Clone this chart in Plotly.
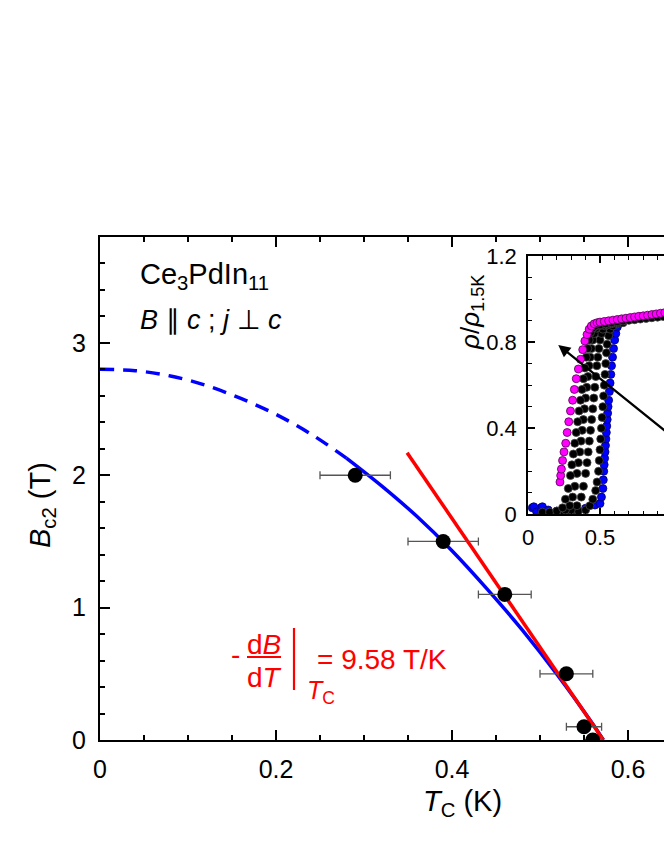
import plotly.graph_objects as go

W, H = 664, 860
FONT = "Liberation Sans, Arial, sans-serif"

# main panel: upper critical field vs Tc
tc = [0.29, 0.39, 0.46, 0.53, 0.55, 0.56]
bc2 = [2.0, 1.5, 1.1, 0.5, 0.1, 0.0]
tc_err = [0.04, 0.04, 0.03, 0.03, 0.02, 0.01]

# WHH-like fit (dashed = extrapolation)
fit_t_dash = [0.0, 0.04, 0.08, 0.12, 0.16, 0.20, 0.24, 0.28]
fit_b_dash = [2.80, 2.79, 2.75, 2.68, 2.58, 2.46, 2.31, 2.13]
fit_t = [0.28, 0.32, 0.36, 0.40, 0.44, 0.48, 0.52, 0.56, 0.572]
fit_b = [2.13, 1.92, 1.69, 1.43, 1.14, 0.83, 0.49, 0.12, 0.0]

# initial slope line
slope_t = [0.349, 0.572]
slope_b = [2.17, 0.0]

# inset: rho/rho_1.5K vs T
mag_t = [0.222, 0.227, 0.232, 0.24, 0.25, 0.262, 0.272, 0.283, 0.295, 0.31, 0.322, 0.335,
         0.35, 0.365, 0.38, 0.395, 0.41, 0.425, 0.44, 0.46, 0.48, 0.50, 0.53, 0.56, 0.59,
         0.62, 0.65, 0.68, 0.71, 0.74, 0.77, 0.80, 0.83, 0.86, 0.89, 0.92, 0.95]
mag_y = [0.15, 0.18, 0.21, 0.25, 0.29, 0.33, 0.38, 0.43, 0.48, 0.53, 0.58, 0.63,
         0.675, 0.72, 0.765, 0.805, 0.835, 0.86, 0.875, 0.885, 0.89, 0.893, 0.896, 0.899, 0.902,
         0.905, 0.908, 0.911, 0.914, 0.917, 0.92, 0.922, 0.925, 0.928, 0.931, 0.934, 0.937]

k1_t = [0.10, 0.15, 0.20, 0.24, 0.26, 0.28, 0.295, 0.305, 0.315, 0.325, 0.335, 0.345, 0.355,
        0.365, 0.375, 0.385, 0.395, 0.405, 0.415, 0.425, 0.435, 0.45, 0.47, 0.50, 0.54, 0.58,
        0.62, 0.66, 0.70, 0.74, 0.78, 0.82, 0.86, 0.90, 0.94]
k1_y = [0.01, 0.01, 0.015, 0.03, 0.07, 0.12, 0.18, 0.23, 0.28, 0.33, 0.38, 0.43, 0.48,
        0.53, 0.58, 0.63, 0.68, 0.73, 0.77, 0.81, 0.845, 0.865, 0.875, 0.88, 0.885, 0.89,
        0.895, 0.898, 0.901, 0.904, 0.907, 0.91, 0.913, 0.916, 0.919]

k2_t = [0.20, 0.26, 0.29, 0.31, 0.325, 0.34, 0.35, 0.36, 0.368, 0.376, 0.384, 0.392, 0.40,
        0.408, 0.416, 0.424, 0.432, 0.44, 0.45, 0.46, 0.475, 0.49, 0.51, 0.54, 0.58, 0.62]
k2_y = [0.01, 0.02, 0.04, 0.08, 0.13, 0.19, 0.24, 0.29, 0.34, 0.39, 0.44, 0.49, 0.54,
        0.59, 0.64, 0.69, 0.73, 0.77, 0.81, 0.84, 0.865, 0.875, 0.88, 0.885, 0.89, 0.895]

k3_t = [0.25, 0.30, 0.34, 0.37, 0.385, 0.40, 0.41, 0.418, 0.426, 0.434, 0.442, 0.45, 0.457,
        0.464, 0.471, 0.478, 0.485, 0.492, 0.50, 0.51, 0.52, 0.535, 0.55, 0.58, 0.62]
k3_y = [0.01, 0.02, 0.04, 0.08, 0.13, 0.19, 0.24, 0.29, 0.34, 0.39, 0.44, 0.49, 0.54,
        0.59, 0.64, 0.69, 0.73, 0.77, 0.81, 0.84, 0.86, 0.875, 0.88, 0.885, 0.89]

k4_t = [0.30, 0.35, 0.40, 0.43, 0.45, 0.47, 0.48, 0.49, 0.495, 0.50, 0.505, 0.51, 0.515,
        0.52, 0.525, 0.53, 0.535, 0.54, 0.545, 0.55, 0.56, 0.57, 0.59, 0.62, 0.66]
k4_y = [0.01, 0.015, 0.02, 0.04, 0.07, 0.11, 0.15, 0.2, 0.25, 0.3, 0.35, 0.4, 0.45,
        0.5, 0.55, 0.6, 0.65, 0.7, 0.75, 0.79, 0.83, 0.86, 0.875, 0.885, 0.89]

blue_t = [0.03, 0.04, 0.06, 0.09, 0.10, 0.14, 0.20, 0.30, 0.40, 0.465, 0.50, 0.51, 0.52,
          0.523, 0.526, 0.529, 0.532, 0.535, 0.538, 0.541, 0.544, 0.547, 0.55, 0.553, 0.556,
          0.56, 0.565, 0.57, 0.575, 0.58, 0.587, 0.594, 0.602, 0.61, 0.62, 0.63]
blue_y = [0.03, 0.035, 0.012, 0.03, 0.035, 0.02, 0.015, 0.015, 0.028, 0.043, 0.05, 0.08, 0.12,
          0.16, 0.2, 0.23, 0.26, 0.29, 0.32, 0.35, 0.38, 0.41, 0.44, 0.47, 0.5,
          0.53, 0.57, 0.61, 0.65, 0.69, 0.73, 0.77, 0.81, 0.84, 0.87, 0.885]


def px(x):
    return x / W


def py(y):
    return 1 - y / H


fig = go.Figure()

fig.add_trace(go.Scatter(x=fit_t_dash, y=fit_b_dash, mode='lines', line_shape='spline',
                         line=dict(color='#0000ff', width=3.5, dash='14px,9px')))
fig.add_trace(go.Scatter(x=fit_t, y=fit_b, mode='lines', line_shape='spline',
                         line=dict(color='#0000ff', width=3.5)))
fig.add_trace(go.Scatter(x=slope_t, y=slope_b, mode='lines',
                         line=dict(color='#ff0000', width=3.5)))
fig.add_trace(go.Scatter(
    x=tc, y=bc2, mode='markers',
    marker=dict(color='black', size=15),
    error_x=dict(type='data', array=tc_err, color='#555555', thickness=1.3, width=4)
))

# inset curves
inset = [(blue_t, blue_y, '#0000ff', '#000060'),
         (k4_t, k4_y, '#000000', '#444444'),
         (k3_t, k3_y, '#000000', '#444444'),
         (k2_t, k2_y, '#000000', '#444444'),
         (k1_t, k1_y, '#000000', '#444444'),
         (mag_t, mag_y, '#ff00ff', '#500050')]
for t, r, c, edge in inset:
    fig.add_trace(go.Scatter(x=t, y=r, mode='markers', xaxis='x2', yaxis='y2',
                             marker=dict(color=c, size=8, line=dict(color=edge, width=0.8))))

ax_common = dict(showline=True, linecolor='black', showgrid=False, zeroline=False,
                 ticks='inside', tickcolor='black', automargin=False)

fig.update_layout(
    width=W, height=H,
    margin=dict(l=0, r=0, t=0, b=0, autoexpand=False),
    paper_bgcolor='white', plot_bgcolor='white',
    showlegend=False,
    font=dict(family=FONT, color='black'),
    xaxis=dict(**ax_common, domain=[px(100), 1], range=[0, 564 / 880],
               linewidth=2, tickwidth=2, ticklen=10, tick0=0, dtick=0.2, mirror='ticks',
               minor=dict(ticks='inside', ticklen=5, tickwidth=1.5, dtick=0.05, showgrid=False),
               tickfont=dict(size=25), ticklabelstandoff=6),
    yaxis=dict(**ax_common, domain=[py(740), py(237)], range=[0, 3.8],
               linewidth=2, tickwidth=2, ticklen=10, tick0=0, dtick=1,
               minor=dict(ticks='inside', ticklen=5, tickwidth=1.5, dtick=0.2, showgrid=False),
               tickfont=dict(size=25), ticklabelstandoff=7),
    xaxis2=dict(**ax_common, anchor='y2', domain=[px(528), 1], range=[0, 136 / 144],
                linewidth=1.5, tickwidth=1.5, ticklen=7, tick0=0, dtick=0.5, mirror='ticks',
                minor=dict(ticks='inside', ticklen=4, tickwidth=1.2, dtick=0.1, showgrid=False),
                tickfont=dict(size=22), ticklabelstandoff=3),
    yaxis2=dict(**ax_common, anchor='x2', domain=[py(514.3), py(256)], range=[0, 1.2],
                linewidth=1.5, tickwidth=1.5, ticklen=7,
                tickvals=[0, 0.4, 0.8, 1.2], ticktext=['0', '0.4', '0.8', '1.2'],
                minor=dict(ticks='inside', ticklen=4, tickwidth=1.2, dtick=0.1, showgrid=False),
                tickfont=dict(size=22), ticklabelstandoff=5),
)

# arrow in the inset (field direction)
fig.add_annotation(x=0.21, y=0.787, xref='x2', yref='y2', ax=1.3, ay=0.2,
                   axref='x2', ayref='y2', text='', showarrow=True,
                   arrowhead=2, arrowsize=1.1, arrowwidth=2.2, arrowcolor='black')

# axis titles
fig.add_annotation(x=px(42), y=py(505), xref='paper', yref='paper', textangle=-90,
                   text='<i>B</i><sub>c2</sub> (T)', showarrow=False,
                   font=dict(size=29), xanchor='center', yanchor='middle')
fig.add_annotation(x=px(462), y=py(803), xref='paper', yref='paper',
                   text='<i>T</i><sub>C</sub> (K)', showarrow=False,
                   font=dict(size=29), xanchor='center', yanchor='middle')
fig.add_annotation(x=px(472), y=py(313), xref='paper', yref='paper', textangle=-90,
                   text='<i>ρ</i>/<i>ρ</i><sub>1.5K</sub>', showarrow=False,
                   font=dict(size=26), xanchor='center', yanchor='middle')

# sample labels
fig.add_annotation(x=px(138), y=py(276), xref='paper', yref='paper',
                   text='Ce<sub>3</sub>PdIn<sub>11</sub>', showarrow=False,
                   font=dict(size=29), xanchor='left', yanchor='middle')
fig.add_annotation(x=px(138), y=py(320), xref='paper', yref='paper',
                   text='<i>B</i> ∥ <i>c</i> ; <i>j</i> ⊥ <i>c</i>', showarrow=False,
                   font=dict(size=27), xanchor='left', yanchor='middle')

# slope formula in red
red = '#ff0000'
fig.add_annotation(x=px(235), y=py(654), xref='paper', yref='paper', text='-',
                   showarrow=False, font=dict(size=28, color=red),
                   xanchor='center', yanchor='middle')
fig.add_annotation(x=px(264), y=py(644), xref='paper', yref='paper', text='d<i>B</i>',
                   showarrow=False, font=dict(size=28, color=red),
                   xanchor='center', yanchor='middle')
fig.add_annotation(x=px(264), y=py(677), xref='paper', yref='paper', text='d<i>T</i>',
                   showarrow=False, font=dict(size=28, color=red),
                   xanchor='center', yanchor='middle')
fig.add_annotation(x=px(305), y=py(692), xref='paper', yref='paper',
                   text='<i>T</i><sub>C</sub>', showarrow=False,
                   font=dict(size=25, color=red), xanchor='left', yanchor='middle')
fig.add_annotation(x=px(315), y=py(659), xref='paper', yref='paper', text='= 9.58 T/K',
                   showarrow=False, font=dict(size=28, color=red),
                   xanchor='left', yanchor='middle')
fig.add_shape(type='line', xref='paper', yref='paper', x0=px(247), x1=px(281),
              y0=py(657), y1=py(657), line=dict(color=red, width=2))
fig.add_shape(type='line', xref='paper', yref='paper', x0=px(294), x1=px(294),
              y0=py(628), y1=py(690), line=dict(color=red, width=2.2))

# drop the default page margin so the figure sits at the window origin
fig.write_html("out.html", config={'displayModeBar': False},
               post_script="document.body.style.margin='0';")
